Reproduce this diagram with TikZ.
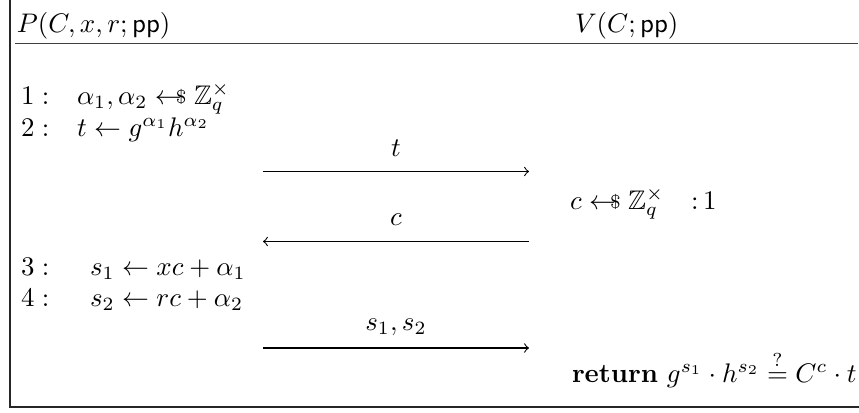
\documentclass[tikz,border=0pt]{standalone}
\usepackage{amsmath,amssymb}
\newcommand{\smp}{\mathrel{\leftarrow\!\!\!\raisebox{0.05ex}{\scriptsize\$}}}
\begin{document}
\begin{tikzpicture}[x=0.372pt,y=-0.372pt,
  txt/.style={anchor=base west,inner sep=0pt,outer sep=0pt},
  lbl/.style={anchor=base,inner sep=0pt,outer sep=0pt},
  frame/.style={line width=0.7pt,draw=black!85},
  rule/.style={line width=0.5pt,draw=black!75},
  msg/.style={->,line width=0.4pt}]
\useasboundingbox (0,0) rectangle (859,412);
% frame
\coordinate (ftl) at (10,0);
\coordinate (fbl) at (10,407);
\coordinate (fbr) at (859,407);
\draw[frame] (ftl) -- (fbl) -- (fbr);
\coordinate (rl) at (15,43.5);
\coordinate (rr) at (858,43.5);
\draw[rule] (rl) -- (rr);
% headers
\node[txt] (hp) at (17,32) {$P(C,x,r;\mathsf{pp})$};
\node[txt] (hv) at (575,32) {$V(C;\mathsf{pp})$};
% prover lines
\node[txt] (n1) at (21,104) {$1:$};
\node[txt] (l1) at (77,104) {$\alpha_1,\alpha_2 \smp \mathbb{Z}_q^\times$};
\node[txt] (n2) at (21,136) {$2:$};
\node[txt] (l2) at (77,136) {$t \leftarrow g^{\alpha_1}h^{\alpha_2}$};
\node[txt] (n3) at (21,275) {$3:$};
\node[txt] (l3) at (90,275) {$s_1 \leftarrow xc+\alpha_1$};
\node[txt] (n4) at (21,306) {$4:$};
\node[txt] (l4) at (90,306) {$s_2 \leftarrow rc+\alpha_2$};
% verifier
\node[txt] (v1) at (570,209) {$c \smp \mathbb{Z}_q^\times\quad{:}\,1$};
\node[txt] (v2) at (572,382) {$\textbf{return}\ g^{s_1}\cdot h^{s_2} \stackrel{?}{=} C^c\cdot t$};
% messages
\coordinate (a1s) at (263,171.5);
\coordinate (a1e) at (529,171.5);
\draw[msg] (a1s) -- (a1e);
\node[lbl] (m1) at (396,156) {$t$};
\coordinate (a2s) at (529,241.5);
\coordinate (a2e) at (263,241.5);
\draw[msg] (a2s) -- (a2e);
\node[lbl] (m2) at (396,225) {$c$};
\coordinate (a3s) at (263,348);
\coordinate (a3e) at (529,348);
\draw[msg] (a3s) -- (a3e);
\node[lbl] (m3) at (396,330) {$s_1,s_2$};
\end{tikzpicture}
\end{document}
